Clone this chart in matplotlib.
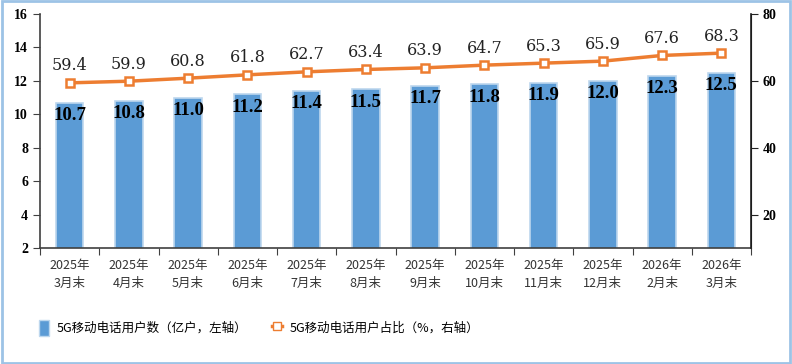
import matplotlib.pyplot as plt
from matplotlib.patches import Rectangle
from matplotlib.lines import Line2D
from matplotlib.patches import Patch
import numpy as np

plt.rcParams['font.family'] = ['Noto Sans CJK SC', 'DejaVu Sans']

# data
months = ['2025年\n3月末', '2025年\n4月末', '2025年\n5月末', '2025年\n6月末',
          '2025年\n7月末', '2025年\n8月末', '2025年\n9月末', '2025年\n10月末',
          '2025年\n11月末', '2025年\n12月末', '2026年\n2月末', '2026年\n3月末']
users = [10.7, 10.8, 11.0, 11.2, 11.4, 11.5, 11.7, 11.8, 11.9, 12.0, 12.3, 12.5]
share = [59.4, 59.9, 60.8, 61.8, 62.7, 63.4, 63.9, 64.7, 65.3, 65.9, 67.6, 68.3]

bar_color = '#5B9BD5'
line_color = '#ED7D31'

fig = plt.figure(figsize=(7.92, 3.64), dpi=100)
ax = fig.add_axes([40/792, 1-248/364, 711/792, 234/364])
ax2 = ax.twinx()

x = np.arange(len(months))
ax.bar(x, users, width=0.46, color=bar_color, edgecolor='#BDD7EE', linewidth=1.2, zorder=2)
ax.set_ylim(2, 16)
ax.set_xlim(-0.5, len(months) - 0.5)
ax.set_yticks([2, 4, 6, 8, 10, 12, 14, 16])

for xi, v in zip(x, users):
    ax.annotate(f'{v:.1f}', (xi, v), xytext=(0, -13), textcoords='offset pixels',
                ha='center', va='center', fontsize=13.5, fontweight='bold',
                family='Liberation Serif', color='black', zorder=5)

ax2.plot(x, share, color=line_color, linewidth=2.5, marker='s', markersize=6,
         markerfacecolor='white', markeredgecolor=line_color, markeredgewidth=1.8, zorder=4)
ax2.set_ylim(10, 80)
ax2.set_yticks([20, 40, 60, 80])
for xi, v in zip(x, share):
    ax2.annotate(f'{v:.1f}', (xi, v), xytext=(0, 17), textcoords='offset pixels',
                 ha='center', va='center', fontsize=11.5, family='DejaVu Serif',
                 color='#222222')

# x ticks between categories
ax.set_xticks(np.arange(-0.5, len(months), 1.0))
ax.set_xticklabels([])
ax.set_xticks(x, minor=True)
ax.set_xticklabels(months, minor=True, fontsize=9, color='#333333', linespacing=1.5)
ax.tick_params(axis='x', which='major', length=5, direction='out', color='#404040')
ax.tick_params(axis='x', which='minor', length=0, pad=8)

for lab in ax.get_yticklabels() + ax2.get_yticklabels():
    lab.set_family('Liberation Serif')
    lab.set_fontweight('bold')
    lab.set_fontsize(10)
ax.tick_params(axis='y', length=5, color='#404040')
ax2.tick_params(axis='y', length=5, color='#222222')

for a in (ax, ax2):
    a.spines['top'].set_visible(False)
ax.spines['left'].set_color('#404040')
ax.spines['left'].set_linewidth(1.2)
ax.spines['bottom'].set_color('#404040')
ax.spines['bottom'].set_linewidth(1.2)
ax2.spines['right'].set_color('#222222')
ax2.spines['right'].set_linewidth(1.2)
ax2.spines['left'].set_visible(False)
ax2.spines['bottom'].set_visible(False)

handles = [Patch(facecolor=bar_color, edgecolor='#BDD7EE'),
           Line2D([0], [0], color=line_color, linewidth=2.5, marker='s', markersize=6,
                  markerfacecolor='white', markeredgecolor=line_color)]
labels = ['5G移动电话用户数（亿户，左轴）', '5G移动电话用户占比（%，右轴）']
fig.legend(handles, labels, loc='center', bbox_to_anchor=(0.327, 1-328/364), ncol=2,
           frameon=False, handlelength=0.8, handleheight=1.6, handletextpad=0.6,
           columnspacing=2.0,
           prop={'family': ['Noto Sans CJK SC', 'DejaVu Sans'], 'size': 9})

fig.patches.append(Rectangle((0.002, 0.003), 0.996, 0.994, transform=fig.transFigure,
                             fill=False, edgecolor='#9DC3E6', linewidth=2))

fig.savefig('out.png', dpi=100)
